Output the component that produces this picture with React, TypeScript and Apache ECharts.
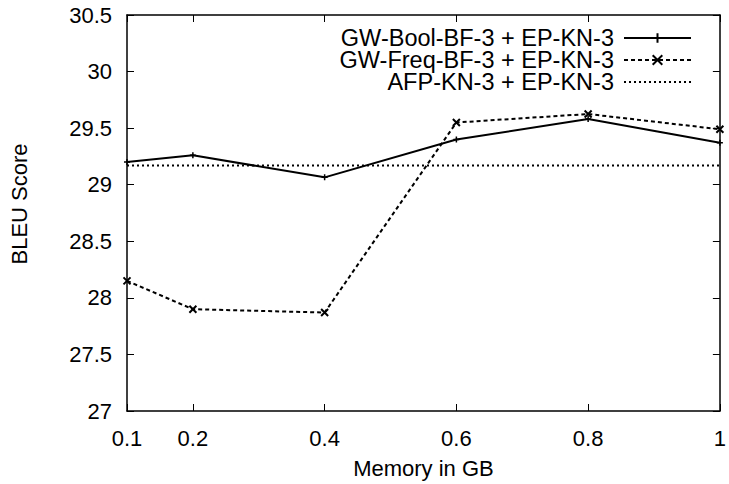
import React, { useEffect, useRef } from "react";
import * as echarts from "echarts";

const xValues = [0.1, 0.2, 0.4, 0.6, 0.8, 1];
const boolBF = [29.2, 29.26, 29.065, 29.4, 29.58, 29.37];
const freqBF = [28.15, 27.9, 27.87, 29.55, 29.625, 29.49];
const afpValue = 29.17;
const xTicks = [0.1, 0.2, 0.4, 0.6, 0.8, 1];
const names = [
  "GW-Bool-BF-3 + EP-KN-3",
  "GW-Freq-BF-3 + EP-KN-3",
  "AFP-KN-3 + EP-KN-3",
];

const FONT = "Liberation Sans, Arial, sans-serif";
const FS = 22;

export default function App() {
  const ref = useRef<HTMLDivElement>(null);
  useEffect(() => {
    if (!ref.current) return;
    const chart = echarts.init(ref.current, undefined, { renderer: "svg" });
    const axisLine = { show: true, lineStyle: { color: "#000", width: 1.5 } };
    const tick = { show: true, inside: true, length: 7, lineStyle: { color: "#000", width: 1 } };
    const plus = "path://M0,4L8,4M4,0L4,8";
    const cross = "path://M0,0L8,8M0,8L8,0";
    const legendBase = {
      orient: "horizontal" as const,
      align: "right" as const,
      right: 32,
      itemWidth: 67,
      itemHeight: 12,
      padding: 0,
      textStyle: {
        fontFamily: FONT,
        fontSize: 23.5,
        lineHeight: 21,
        color: "#000",
        padding: [0, 5, 0, 0],
      },
    };
    chart.setOption({
      animation: false,
      backgroundColor: "#fff",
      grid: { left: 127, right: 9, top: 15, bottom: 71 },
      legend: [
        { ...legendBase, top: 26, right: 37, data: [names[0]] },
        { ...legendBase, top: 48, right: 37, data: [names[1]] },
        { ...legendBase, top: 70, right: 37, data: [{ name: names[2], itemStyle: { opacity: 0 } }] },
      ],
      xAxis: [
        {
          type: "value",
          min: 0.1,
          max: 1,
          name: "Memory in GB",
          nameLocation: "middle",
          nameGap: 46,
          nameTextStyle: { fontFamily: FONT, fontSize: FS, color: "#000" },
          axisLine,
          axisTick: { ...tick, customValues: xTicks },
          axisLabel: {
            customValues: xTicks,
            fontFamily: FONT,
            fontSize: FS,
            color: "#000",
            margin: 16,
            formatter: (v: number) => String(v),
          },
          splitLine: { show: false },
        },
        {
          type: "value",
          position: "top",
          min: 0.1,
          max: 1,
          axisLine,
          axisTick: { ...tick, customValues: xTicks },
          axisLabel: { show: false },
          splitLine: { show: false },
        },
      ],
      yAxis: [
        {
          type: "value",
          min: 27,
          max: 30.5,
          interval: 0.5,
          name: "BLEU Score",
          nameLocation: "middle",
          nameGap: 97,
          nameTextStyle: { fontFamily: FONT, fontSize: FS, color: "#000", padding: [0, 0, 0, 18] },
          axisLine,
          axisTick: tick,
          axisLabel: { fontFamily: FONT, fontSize: FS, color: "#000", margin: 15 },
          splitLine: { show: false },
        },
        {
          type: "value",
          position: "right",
          min: 27,
          max: 30.5,
          interval: 0.5,
          axisLine,
          axisTick: tick,
          axisLabel: { show: false },
          splitLine: { show: false },
        },
      ],
      series: [
        {
          name: names[0],
          type: "line",
          data: xValues.map((x, i) => [x, boolBF[i]]),
          symbol: plus,
          symbolSize: 6,
          lineStyle: { color: "#000", width: 2 },
          itemStyle: { color: "#000", borderColor: "#000", borderWidth: 1.5 },
        },
        {
          name: names[1],
          type: "line",
          data: xValues.map((x, i) => [x, freqBF[i]]),
          symbol: cross,
          symbolSize: 7,
          lineStyle: { color: "#000", width: 2, type: [4, 3] },
          itemStyle: { color: "#000", borderColor: "#000", borderWidth: 2 },
        },
        {
          name: names[2],
          type: "line",
          data: [
            [xValues[0], afpValue],
            [xValues[xValues.length - 1], afpValue],
          ],
          symbol: "none",
          lineStyle: { color: "#000", width: 2, type: [2, 3] },
          itemStyle: { color: "#000" },
        },
      ],
    });
    return () => chart.dispose();
  }, []);
  return <div ref={ref} style={{ width: 729, height: 484, position: "absolute", left: 0, top: 0 }} />;
}
